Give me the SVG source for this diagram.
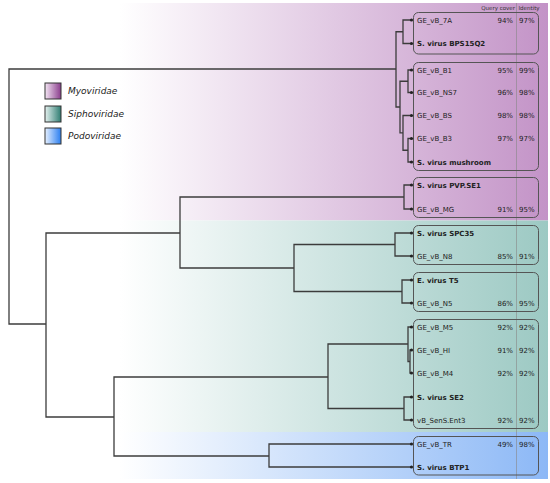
<svg xmlns="http://www.w3.org/2000/svg" width="550" height="483" viewBox="0 0 550 483">
<defs>
<linearGradient id="gMyo" gradientUnits="userSpaceOnUse" x1="120" y1="0" x2="548" y2="0"><stop offset="0" stop-color="#ffffff"/><stop offset="1" stop-color="#c393c7"/></linearGradient>
<linearGradient id="gSip" gradientUnits="userSpaceOnUse" x1="120" y1="0" x2="548" y2="0"><stop offset="0" stop-color="#ffffff"/><stop offset="1" stop-color="#9cc9c3"/></linearGradient>
<linearGradient id="gPod" gradientUnits="userSpaceOnUse" x1="120" y1="0" x2="548" y2="0"><stop offset="0" stop-color="#ffffff"/><stop offset="1" stop-color="#8cb8f6"/></linearGradient>
<linearGradient id="lMyo" x1="0" y1="0" x2="1" y2="0"><stop offset="0" stop-color="#f4e6f4"/><stop offset="1" stop-color="#8a3c8c"/></linearGradient>
<linearGradient id="lSip" x1="0" y1="0" x2="1" y2="0"><stop offset="0" stop-color="#e4f1ef"/><stop offset="1" stop-color="#2f7d72"/></linearGradient>
<linearGradient id="lPod" x1="0" y1="0" x2="1" y2="0"><stop offset="0" stop-color="#e6f0ff"/><stop offset="1" stop-color="#2a7ef0"/></linearGradient>
</defs>
<style>
text{font-family:"DejaVu Sans","Liberation Sans",sans-serif;fill:#222}
.lf{font-size:7px}
.b{font-weight:bold}
.pc{font-size:7px}
.qc{text-anchor:end}
.hd{font-size:5.5px;fill:#333}
.lg{font-size:9px;font-style:italic}
.br{fill:none;stroke:#3c3c3c;stroke-width:1.3}
.box{fill:none;stroke:#555;stroke-width:1}
.dot{fill:#222}
.sw{stroke:#333;stroke-width:1}
</style>
<rect x="0" y="0" width="550" height="483" fill="#ffffff"/>
<g id="bands">
<rect x="0" y="3" width="548" height="217.5" fill="url(#gMyo)"/>
<rect x="0" y="220.5" width="548" height="211.5" fill="url(#gSip)"/>
<rect x="0" y="432" width="548" height="47" fill="url(#gPod)"/>
</g>
<line x1="516.5" y1="3" x2="516.5" y2="479" stroke="#888" stroke-width="0.6"/>
<text class="hd qc" x="515" y="10">Query cover</text>
<text class="hd" x="518.5" y="10">Identity</text>
<g id="legend">
<rect class="sw" x="45" y="83" width="16" height="16" fill="url(#lMyo)"/>
<text class="lg" x="68" y="94">Myoviridae</text>
<rect class="sw" x="45" y="106" width="16" height="16" fill="url(#lSip)"/>
<text class="lg" x="68" y="117">Siphoviridae</text>
<rect class="sw" x="45" y="128" width="16" height="16" fill="url(#lPod)"/>
<text class="lg" x="68" y="139">Podoviridae</text>
</g>
<g id="connectors" class="br">
<path d="M396,69 H9 V324 H46"/>
<path d="M403,31.75 H396 V107 H400"/>
<path d="M411,20 H403 V43.5 H411"/>
<path d="M408,81.25 H400 V132.8 H403"/>
<path d="M411,70 H408 V92.5 H411"/>
<path d="M411,115.5 H403 V150.25 H408"/>
<path d="M411,138.5 H408 V162 H411"/>
<path d="M180,233 H46 V417 H114"/>
<path d="M404,197 H180 V268 H294"/>
<path d="M411,185 H404 V209 H411"/>
<path d="M395,244.5 H294 V291.5 H402"/>
<path d="M411,233 H395 V256 H411"/>
<path d="M411,280 H402 V303 H411"/>
<path d="M328,377 H114 V456 H269"/>
<path d="M408,344 H328 V408.5 H404"/>
<path d="M411,327 H408 V361.5 H410"/>
<path d="M411,350 H410 V373 H411"/>
<path d="M411,397 H404 V420 H411"/>
<path d="M411,444 H269 V467 H411"/>
</g>
<g id="boxes" class="box">
<rect x="413.5" y="12.5" width="125" height="41.5" rx="5"/>
<rect x="413.5" y="62.5" width="125" height="108" rx="5"/>
<rect x="413.5" y="177.5" width="125" height="40" rx="5"/>
<rect x="413.5" y="225.5" width="125" height="39" rx="5"/>
<rect x="413.5" y="272.5" width="125" height="39" rx="5"/>
<rect x="413.5" y="319.5" width="125" height="109" rx="5"/>
<rect x="413.5" y="436.5" width="125" height="38.5" rx="5"/>
</g>
<g id="n-7A"><circle class="dot" cx="411.5" cy="20" r="1.6"/><text class="lf" x="417" y="22.5">GE_vB_7A</text><text class="pc qc" x="513" y="22.5">94%</text><text class="pc" x="519" y="22.5">97%</text></g>
<g id="n-BPS15Q2"><circle class="dot" cx="411.5" cy="43.5" r="1.6"/><text class="lf b" x="417" y="46">S. virus BPS15Q2</text></g>
<g id="n-B1"><circle class="dot" cx="411.5" cy="70" r="1.6"/><text class="lf" x="417" y="72.5">GE_vB_B1</text><text class="pc qc" x="513" y="72.5">95%</text><text class="pc" x="519" y="72.5">99%</text></g>
<g id="n-NS7"><circle class="dot" cx="411.5" cy="92.5" r="1.6"/><text class="lf" x="417" y="95">GE_vB_NS7</text><text class="pc qc" x="513" y="95">96%</text><text class="pc" x="519" y="95">98%</text></g>
<g id="n-BS"><circle class="dot" cx="411.5" cy="115.5" r="1.6"/><text class="lf" x="417" y="118">GE_vB_BS</text><text class="pc qc" x="513" y="118">98%</text><text class="pc" x="519" y="118">98%</text></g>
<g id="n-B3"><circle class="dot" cx="411.5" cy="138.5" r="1.6"/><text class="lf" x="417" y="141">GE_vB_B3</text><text class="pc qc" x="513" y="141">97%</text><text class="pc" x="519" y="141">97%</text></g>
<g id="n-mushroom"><circle class="dot" cx="411.5" cy="162" r="1.6"/><text class="lf b" x="417" y="164.5">S. virus mushroom</text></g>
<g id="n-PVP"><circle class="dot" cx="411.5" cy="185" r="1.6"/><text class="lf b" x="417" y="187.5">S. virus PVP.SE1</text></g>
<g id="n-MG"><circle class="dot" cx="411.5" cy="209" r="1.6"/><text class="lf" x="417" y="211.5">GE_vB_MG</text><text class="pc qc" x="513" y="211.5">91%</text><text class="pc" x="519" y="211.5">95%</text></g>
<g id="n-SPC35"><circle class="dot" cx="411.5" cy="233" r="1.6"/><text class="lf b" x="417" y="235.5">S. virus SPC35</text></g>
<g id="n-N8"><circle class="dot" cx="411.5" cy="256" r="1.6"/><text class="lf" x="417" y="258.5">GE_vB_N8</text><text class="pc qc" x="513" y="258.5">85%</text><text class="pc" x="519" y="258.5">91%</text></g>
<g id="n-T5"><circle class="dot" cx="411.5" cy="280" r="1.6"/><text class="lf b" x="417" y="282.5">E. virus T5</text></g>
<g id="n-N5"><circle class="dot" cx="411.5" cy="303" r="1.6"/><text class="lf" x="417" y="305.5">GE_vB_N5</text><text class="pc qc" x="513" y="305.5">86%</text><text class="pc" x="519" y="305.5">95%</text></g>
<g id="n-M5"><circle class="dot" cx="411.5" cy="327" r="1.6"/><text class="lf" x="417" y="329.5">GE_vB_M5</text><text class="pc qc" x="513" y="329.5">92%</text><text class="pc" x="519" y="329.5">92%</text></g>
<g id="n-HI"><circle class="dot" cx="411.5" cy="350" r="1.6"/><text class="lf" x="417" y="352.5">GE_vB_HI</text><text class="pc qc" x="513" y="352.5">91%</text><text class="pc" x="519" y="352.5">92%</text></g>
<g id="n-M4"><circle class="dot" cx="411.5" cy="373" r="1.6"/><text class="lf" x="417" y="375.5">GE_vB_M4</text><text class="pc qc" x="513" y="375.5">92%</text><text class="pc" x="519" y="375.5">92%</text></g>
<g id="n-SE2"><circle class="dot" cx="411.5" cy="397" r="1.6"/><text class="lf b" x="417" y="399.5">S. virus SE2</text></g>
<g id="n-SenS"><circle class="dot" cx="411.5" cy="420" r="1.6"/><text class="lf" x="417" y="422.5">vB_SenS.Ent3</text><text class="pc qc" x="513" y="422.5">92%</text><text class="pc" x="519" y="422.5">92%</text></g>
<g id="n-TR"><circle class="dot" cx="411.5" cy="444" r="1.6"/><text class="lf" x="417" y="446.5">GE_vB_TR</text><text class="pc qc" x="513" y="446.5">49%</text><text class="pc" x="519" y="446.5">98%</text></g>
<g id="n-BTP1"><circle class="dot" cx="411.5" cy="467" r="1.6"/><text class="lf b" x="417" y="469.5">S. virus BTP1</text></g>
</svg>
